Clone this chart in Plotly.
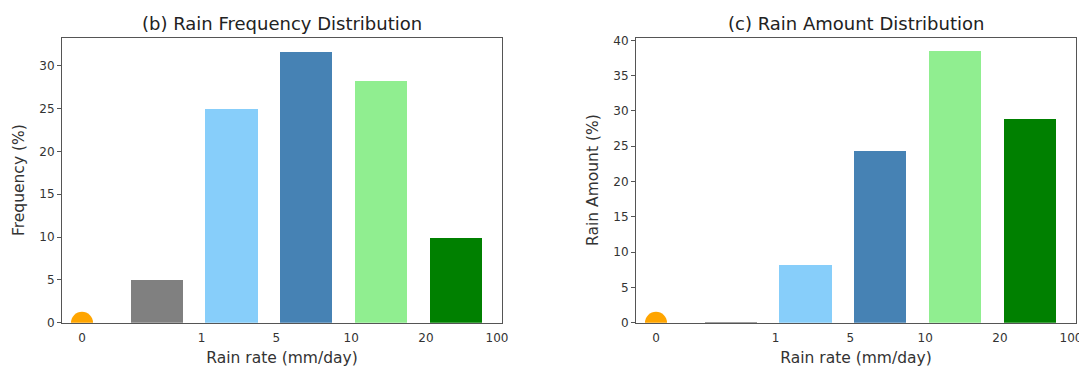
import plotly.graph_objects as go

# ---- data ----
bin_labels = ["0", "1", "5", "10", "20", "100"]
bar_colors = ["gray", "lightskyblue", "steelblue", "lightgreen", "green"]
bar_positions = [1, 2, 3, 4, 5]
tick_positions = [0, 1.6, 2.6, 3.6, 4.6, 5.55]
zero_rain_freq = [0.0]
zero_rain_amount = [0.0]
freq_values = [5.1, 25.0, 31.7, 28.3, 10.0]
amount_values = [0.15, 8.2, 24.4, 38.5, 28.9]

# the page body has an 8px margin, so the figure is offset by 8px
OFF = 8
W, H = 1087 - OFF, 369 - OFF
FONT = "DejaVu Sans"
TXT = "#333333"
SPINE = "#555555"

def px_x(p):
    return (p - OFF) / W

def px_y(p):
    return 1 - (p - OFF) / H

fig = go.Figure()

panels = [
    ("x", "y", freq_values, zero_rain_freq),
    ("x2", "y2", amount_values, zero_rain_amount),
]
for xa, ya, vals, zero in panels:
    fig.add_trace(go.Bar(
        x=bar_positions, y=vals, width=0.7,
        marker=dict(color=bar_colors, line=dict(width=0)),
        xaxis=xa, yaxis=ya, showlegend=False,
    ))
    fig.add_trace(go.Scatter(
        x=[0], y=zero, mode="markers",
        marker=dict(color="orange", size=22, line=dict(width=0)),
        xaxis=xa, yaxis=ya, showlegend=False, cliponaxis=True,
    ))

xcommon = dict(
    range=[-0.2675, 5.6175], tickmode="array", tickvals=tick_positions,
    ticktext=bin_labels, showgrid=False, zeroline=False, showline=True,
    mirror=True, linecolor=SPINE, linewidth=1, ticks="", automargin=False,
    ticklabelstandoff=4,
    tickfont=dict(family=FONT, size=12, color=TXT),
    title=dict(text="Rain rate (mm/day)", font=dict(family=FONT, size=15.5, color=TXT), standoff=8),
)
ycommon = dict(
    showgrid=False, zeroline=False, showline=True, mirror=True, automargin=False,
    linecolor=SPINE, linewidth=1, ticks="outside", ticklen=4, tickcolor=SPINE,
    tickfont=dict(family=FONT, size=12, color=TXT),
)

ydom = [px_y(322.7), px_y(37.5)]
fig.update_layout(
    width=W, height=H, margin=dict(l=0, r=0, t=0, b=0),
    paper_bgcolor="white", plot_bgcolor="white",
    bargap=0,
    xaxis=dict(domain=[px_x(62), px_x(502)], anchor="y", **xcommon),
    xaxis2=dict(domain=[px_x(636), px_x(1076)], anchor="y2", **xcommon),
    yaxis=dict(domain=ydom, anchor="x", range=[0, 33.3], tickvals=[0, 5, 10, 15, 20, 25, 30],
               title=dict(text="Frequency (%)", font=dict(family=FONT, size=15.5, color=TXT), standoff=10),
               **ycommon),
    yaxis2=dict(domain=ydom, anchor="x2", range=[0, 40.4], tickvals=[0, 5, 10, 15, 20, 25, 30, 35, 40],
                title=dict(text="Rain Amount (%)", font=dict(family=FONT, size=15.5, color=TXT), standoff=10),
                **ycommon),
    annotations=[
        dict(text="(b) Rain Frequency Distribution", x=px_x(282), y=px_y(23),
             xref="paper", yref="paper", showarrow=False, xanchor="center", yanchor="middle",
             font=dict(family=FONT, size=18, color="#222222")),
        dict(text="(c) Rain Amount Distribution", x=px_x(856), y=px_y(23),
             xref="paper", yref="paper", showarrow=False, xanchor="center", yanchor="middle",
             font=dict(family=FONT, size=18, color="#222222")),
    ],
)

fig.write_html("out.html")
